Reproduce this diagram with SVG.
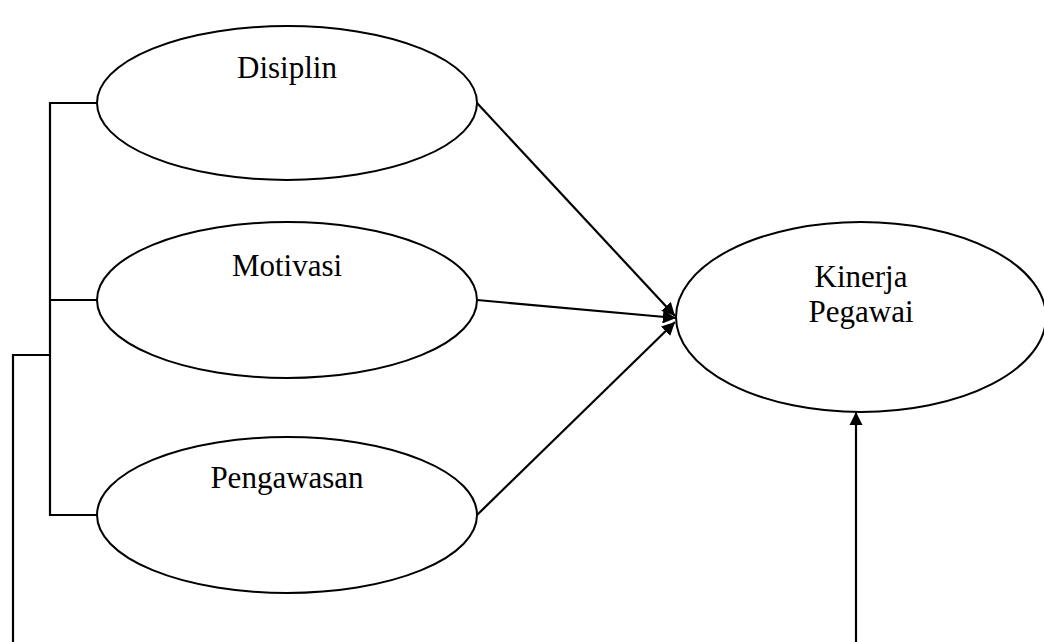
<svg xmlns="http://www.w3.org/2000/svg" width="1044" height="642" viewBox="0 0 1044 642">
<style>
.node ellipse{fill:#fff;stroke:#000;stroke-width:2}
.node text{font-family:"Liberation Serif","Times New Roman",serif;font-size:31px;fill:#000;text-anchor:middle}
.conn line,.conn polyline{stroke:#000;stroke-width:2.2;fill:none}
</style>
<defs>
<marker id="ah" viewBox="0 0 10 10" refX="10" refY="5" markerWidth="6" markerHeight="6" markerUnits="strokeWidth" orient="auto">
<path d="M0,0 L10,5 L0,10 z" fill="#000"/>
</marker>
</defs>
<rect width="1044" height="642" fill="#fff"/>
<g class="conn">
<polyline points="97,103 50,103 50,515 97,515"/>
<line x1="50" y1="300" x2="97" y2="300"/>
<polyline points="50,355 13,355 13,642"/>
<line x1="477" y1="103" x2="675" y2="316" marker-end="url(#ah)"/>
<line x1="477" y1="300" x2="676" y2="318" marker-end="url(#ah)"/>
<line x1="477" y1="515" x2="675" y2="322" marker-end="url(#ah)"/>
<line x1="856" y1="642" x2="856" y2="412" marker-end="url(#ah)"/>
</g>
<g id="disiplin" class="node">
<ellipse cx="287" cy="103" rx="190" ry="77"/>
<text x="287" y="78">Disiplin</text>
</g>
<g id="motivasi" class="node">
<ellipse cx="287" cy="300" rx="190" ry="78"/>
<text x="287" y="276">Motivasi</text>
</g>
<g id="pengawasan" class="node">
<ellipse cx="287" cy="515" rx="190" ry="78"/>
<text x="287" y="488">Pengawasan</text>
</g>
<g id="kinerja" class="node">
<ellipse cx="861" cy="317" rx="185" ry="95"/>
<text x="861" y="287">Kinerja</text>
<text x="861" y="322">Pegawai</text>
</g>
</svg>
